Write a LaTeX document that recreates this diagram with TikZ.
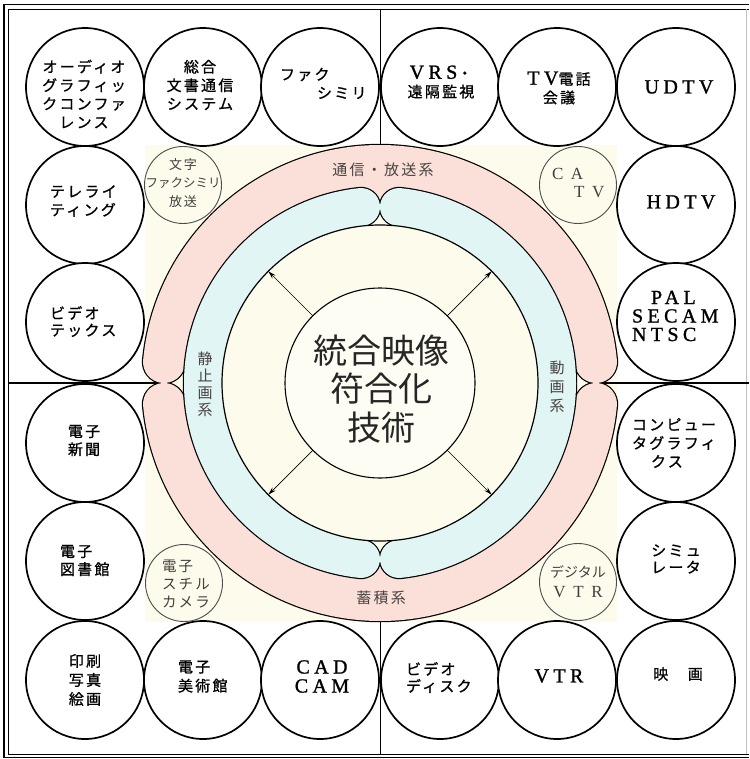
\documentclass[tikz,border=0pt]{standalone}
\usepackage{fontspec}
\setmainfont{Noto Sans CJK JP}
\newfontfamily\jpf[LetterSpace=15]{Noto Sans CJK JP}
\newfontfamily\jpb[LetterSpace=15,FakeBold=0.9]{Noto Sans CJK JP}
\newfontfamily\jpn{Noto Sans CJK JP}
\newfontfamily\latf[LetterSpace=22,FakeBold=1.2]{Liberation Serif}
\newfontfamily\latw[LetterSpace=45]{Liberation Serif}
\usetikzlibrary{arrows.meta}
\definecolor{pinkband}{HTML}{FAE0D8}
\definecolor{blueband}{HTML}{E0F5F4}
\definecolor{creamy}{HTML}{FDFBEB}
\definecolor{labelc}{HTML}{474141}
\newcommand\ltn[1]{{\latf\fontsize{20}{18.5}\selectfont #1}}
\newcommand\ltw[1]{{\latw\fontsize{17}{20}\selectfont #1}}
\tikzset{
 big/.style={circle, draw=black, line width=1.7pt, fill=white, minimum size=118pt, inner sep=0pt, outer sep=0pt},
 thinc/.style={circle, draw=black!70, line width=0.9pt, minimum size=77pt, inner sep=0pt, outer sep=0pt},
 ct/.style={inner sep=0pt, outer sep=0pt, align=center, font=\jpb\fontsize{15}{18.5}\selectfont},
 ctl/.style={ct, align=left, anchor=west},
 tt/.style={inner sep=0pt, outer sep=0pt, align=center, text=black!75, font=\jpn\fontsize{12.5}{18.5}\selectfont},
 lab/.style={inner sep=0pt, outer sep=0pt, align=center, text=labelc},
 arr/.style={-{Stealth[length=8pt,width=4.5pt]}, line width=0.7pt},
 divider/.style={line width=1.1pt}
}
\begin{document}
\begin{tikzpicture}[x=1pt,y=-1pt]
\useasboundingbox (0,0) rectangle (749,759);
% background of the central square
\fill[creamy] (145,145) rectangle (617,622);
% frame
\draw[line width=1.8pt] (749,4.5) -- (4,4.5) -- (4,757.5) -- (749,757.5);
\draw[line width=0.8pt] (749,9) -- (8,9) -- (8,754) -- (749,754);
\draw[line width=0.6pt, black!25] (746,9) -- (746,754);
% dividing lines
\coordinate (C) at (380,383);
\coordinate (fl) at (8,383);
\coordinate (fr) at (749,383);
\coordinate (ft) at (380.5,9);
\coordinate (fb) at (380.5,754);
\coordinate (pl) at (163,383);
\coordinate (pr) at (597,383);
\coordinate (pt) at (380.5,145);
\coordinate (pb) at (380.5,621);
\draw[divider] (fl) -- (pl);
\draw[divider] (pr) -- (fr);
\draw[divider] (ft) -- (pt);
\draw[divider] (pb) -- (fb);
% pink band (two halves)
\foreach \a/\b in {5.55/174.45, 185.55/354.45}{
  \draw[line width=44.4pt, line cap=round, black] (C) ++(\a:217) arc[start angle=\a, end angle=\b, radius=217];
}
\foreach \a/\b in {5.55/174.45, 185.55/354.45}{
  \draw[line width=42pt, line cap=round, pinkband] (C) ++(\a:217) arc[start angle=\a, end angle=\b, radius=217];
}
\foreach \a/\b in {80/100, 260/280}{
  \draw[line width=20pt, pinkband] (C) ++(\a:187) arc[start angle=\a, end angle=\b, radius=187];
}
% blue band (two halves)
\foreach \a/\b in {96.16/263.84, -83.84/83.84}{
  \draw[line width=40.4pt, line cap=round, black] (C) ++(\a:177) arc[start angle=\a, end angle=\b, radius=177];
}
\foreach \a/\b in {96.16/263.84, -83.84/83.84}{
  \draw[line width=38pt, line cap=round, blueband] (C) ++(\a:177) arc[start angle=\a, end angle=\b, radius=177];
}
% inner circle and core
\node[circle, draw, line width=1.2pt, fill=creamy, minimum size=316pt, inner sep=0pt, outer sep=0pt] (inner) at (C) {};
\node[circle, draw, line width=1.1pt, fill=creamy!60!white, minimum size=190pt, inner sep=0pt, outer sep=0pt] (core) at (C) {};
\node[inner sep=0pt, align=center, text=black!85, font=\jpn\fontsize{34}{38.5}\selectfont] (coretext) at (381,389) {統合映像\\符合化\\技術};
\draw[arr] (core.135) -- (inner.135);
\draw[arr] (core.45) -- (inner.45);
\draw[arr] (core.225) -- (inner.225);
\draw[arr] (core.315) -- (inner.315);
% band labels
\node[lab, font=\jpf\fontsize{15}{18}\selectfont] (lbtop) at (383,170) {通信・放送系};
\node[lab, font=\jpf\fontsize{15}{18}\selectfont] (lbbot) at (381,598) {蓄積系};
\node[lab, font=\jpn\fontsize{15}{17}\selectfont] (lbleft) at (205,384) {静\\止\\画\\系};
\node[lab, font=\jpn\fontsize{15}{19}\selectfont] (lbright) at (557,387) {動\\画\\系};
% big circles
\node[big] (a1) at (85,87) {};
\node[big] (a2) at (203,87) {};
\node[big] (a3) at (320,87) {};
\node[big] (a4) at (440,87) {};
\node[big] (a5) at (557,87) {};
\node[big] (a6) at (676,87) {};
\node[big] (b1) at (85,205) {};
\node[big] (b2) at (85,322) {};
\node[big] (b3) at (85,443) {};
\node[big] (b4) at (85,561) {};
\node[big] (b5) at (85,680) {};
\node[big] (r1) at (676,205) {};
\node[big] (r2) at (676,322) {};
\node[big] (r3) at (676,443) {};
\node[big] (r4) at (676,561) {};
\node[big] (r5) at (676,680) {};
\node[big] (d1) at (203,680) {};
\node[big] (d2) at (320,680) {};
\node[big] (d3) at (440,680) {};
\node[big] (d4) at (557,680) {};
% thin circles
\node[thinc] (s1) at (183,185) {};
\node[thinc] (s2) at (578,185) {};
\node[thinc] (s3) at (184,583) {};
\node[thinc] (s4) at (578,582) {};
% texts in big circles
\node[ct] (ta1) at (84,94) {オーディオ\\グラフィッ\\クコンファ\\レンス};
\node[ct] (ta2) at (200,85) {総合\\文書通信\\システム};
\node[ctl] (ta3) at (280,83.5) {ファク\\\hspace*{37pt}シミリ};
\node[ct] (ta4) at (441,82) {\ltn{VRS}・\\遠隔監視};
\node[ct] (ta5) at (559,88) {\ltn{TV}電話\\会議};
\node[ct] (ta6) at (679,87) {\ltn{UDTV}};
\node[ctl] (tb1) at (50,201) {テレライ\\ティング};
\node[ctl, font=\jpb\fontsize{15}{17}\selectfont] (tb2) at (50,321.5) {ビデオ\\テックス};
\node[ct, font=\jpb\fontsize{15}{18}\selectfont] (tb3) at (84,440.5) {電子\\新聞};
\node[ctl, font=\jpb\fontsize{15}{18}\selectfont] (tb4) at (60,560.5) {電子\\図書館};
\node[ct, font=\jpb\fontsize{15}{19}\selectfont] (tb5) at (85,680) {印刷\\写真\\絵画};
\node[ct] (tr1) at (681,202) {\ltn{HDTV}};
\node[ctl] (tr2) at (632,316) {\hspace*{19pt}\ltn{PAL}\\\ltn{SECAM}\\\ltn{NTSC}};
\node[ctl] (tr3) at (632,443) {コンピュー\\タグラフィ\\\hspace*{19pt}クス};
\node[ct, font=\jpb\fontsize{15}{17}\selectfont] (tr4) at (676,559) {シミュ\\レータ};
\node[ct] (tr5) at (678,674) {映　画};
\node[ctl, font=\jpb\fontsize{15}{19}\selectfont] (td1) at (178,676.5) {電子\\美術館};
\node[ct, font=\jpb\fontsize{15}{19}\selectfont] (td2) at (322,676.5) {\ltn{CAD}\\\ltn{CAM}};
\node[ctl, font=\jpb\fontsize{15}{17}\selectfont] (td3) at (406,677.5) {ビデオ\\ディスク};
\node[ct] (td4) at (559,676) {\ltn{VTR}};
% texts in thin circles
\node[tt] (ts1) at (183,183) {{\jpf\fontsize{13}{18.5}\selectfont 文字}\\ファクシミリ\\{\jpf\fontsize{13}{18.5}\selectfont 放送}};
\node[tt, align=left, anchor=west] (ts2) at (552,183) {\ltw{CA}\\\hspace*{22pt}\ltw{TV}};
\node[tt, align=left, anchor=west, font=\jpf\fontsize{14.5}{18}\selectfont] (ts3) at (162,584) {電子\\スチル\\カメラ};
\node[tt, font=\jpn\fontsize{14}{20}\selectfont] (ts4) at (578,582) {デジタル\\\ltw{VTR}};
\end{tikzpicture}
\end{document}
